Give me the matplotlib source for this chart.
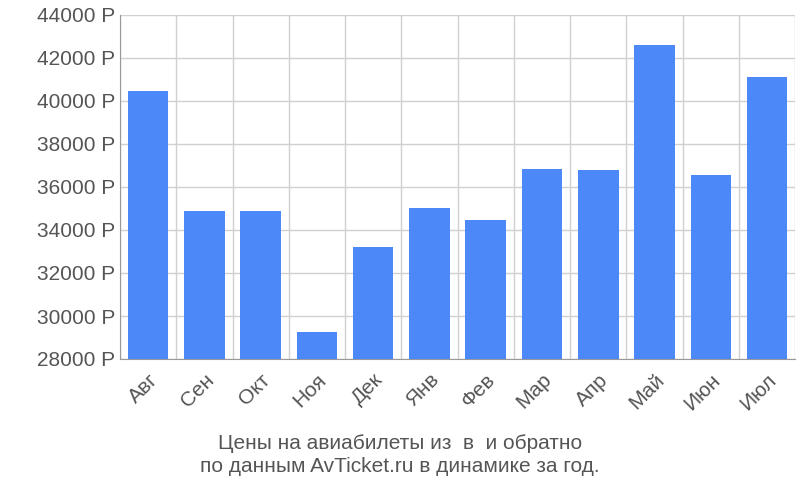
import matplotlib
matplotlib.use("Agg")
import matplotlib.pyplot as plt
from matplotlib.ticker import MultipleLocator, FuncFormatter

months = ["Авг","Сен","Окт","Ноя","Дек","Янв","Фев","Мар","Апр","Май","Июн","Июл"]
prices = [40470, 34880, 34880, 29260, 33210, 35020, 34470, 36840, 36790, 42600, 36560, 41120]

plt.rcParams['font.family'] = ['Liberation Sans', 'DejaVu Sans']
fig = plt.figure(figsize=(8, 5), dpi=100)
ax = fig.add_axes([0.15, 0.282, 0.844, 0.688])
x = range(len(months))
ax.bar(x, prices, width=0.72, color="#4d88f9", zorder=3)
ax.set_xlim(-0.5, len(months) - 0.5)
ax.set_ylim(28000, 44000)
ax.yaxis.set_major_locator(MultipleLocator(2000))
ax.yaxis.set_major_formatter(FuncFormatter(lambda v, p: f"{int(v)} Р"))
ax.set_xticks(list(x))
ax.set_xticklabels(months, rotation=45, ha="right", rotation_mode="anchor")
ax.set_xticks([i + 0.5 for i in range(-1, len(months))], minor=True)
ax.grid(True, which="major", axis="y", color="#d0d0d0", lw=1, zorder=0)
ax.grid(True, which="minor", axis="x", color="#d0d0d0", lw=1, zorder=0)
for s in ["top", "right"]:
    ax.spines[s].set_visible(False)
ax.spines["left"].set_color("#999999")
ax.spines["bottom"].set_color("#999999")
ax.tick_params(axis="both", which="both", length=0, labelsize=15, colors="#555555")
ax.tick_params(axis="x", which="major", pad=8)
fig.text(0.5, 0.09, "Цены на авиабилеты из  в  и обратно\nпо данным AvTicket.ru в динамике за год.",
         ha="center", va="center", fontsize=15, color="#555555", linespacing=1.3)
fig.savefig("out.png", dpi=100)
